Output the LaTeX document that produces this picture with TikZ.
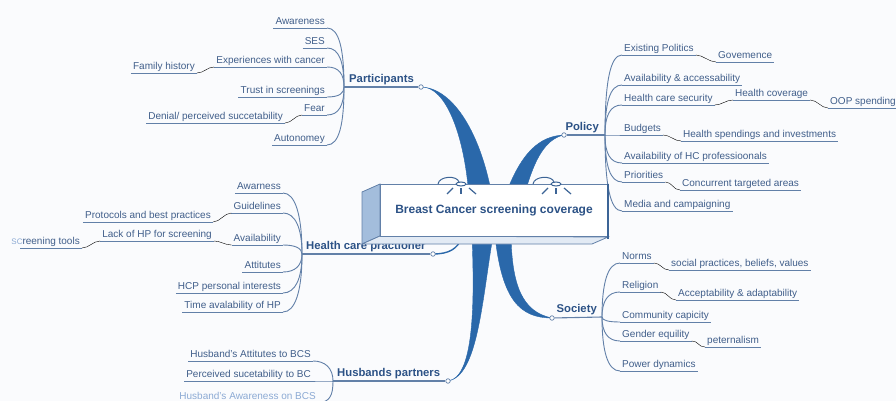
\documentclass[tikz,border=0pt]{standalone}
\usepackage{fontspec}
\setmainfont{Liberation Sans}
\usetikzlibrary{calc}
\definecolor{bgc}{RGB}{250,251,253}
\definecolor{txtc}{RGB}{64,94,138}
\definecolor{hubc}{RGB}{44,82,134}
\definecolor{linec}{RGB}{98,128,168}
\definecolor{branchc}{RGB}{42,104,170}
\definecolor{fadec}{RGB}{140,170,212}
\definecolor{sidec}{RGB}{163,189,220}
\definecolor{basec}{RGB}{226,234,244}
\definecolor{edgec}{RGB}{60,100,150}
\begin{document}
\begin{tikzpicture}[x=1pt,y=-1pt,
  uline/.style={draw=linec,line width=0.9pt},
  leaf/.style={font=\fontsize{10}{12}\selectfont,text=txtc,inner xsep=2pt,inner ysep=1pt,text depth=2pt,
    append after command={(\tikzlastnode.south west) edge[uline] (\tikzlastnode.south east)}},
  lleaf/.style={leaf,anchor=south east},
  rleaf/.style={leaf,anchor=south west},
  link/.style={draw=linec,line width=0.9pt},
  fanleft/.style={link,to path={.. controls ($(\tikztostart)!0.65!(\tikztostart|-\tikztotarget)$) and ($(\tikztotarget)+(12,0)$) .. (\tikztotarget)}},
  fanright/.style={link,to path={.. controls ($(\tikztostart)!0.65!(\tikztostart|-\tikztotarget)$) and ($(\tikztotarget)+(-12,0)$) .. (\tikztotarget)}},
  chain/.style={link,to path={.. controls +(7,0) and +(-7,0) .. (\tikztotarget)}},
  hublabel/.style={font=\fontsize{11.3}{13}\selectfont\bfseries,text=hubc,inner xsep=1pt,inner ysep=2pt,text depth=2.5pt},
  hubline/.style={draw=linec,line width=1.1pt},
  dot/.style={circle,draw=linec,fill=white,line width=0.7pt,inner sep=0pt,minimum size=4.5pt},
  branch/.style={fill=branchc,draw=branchc,line width=0.4pt,line join=round},
  lamp/.style={draw=edgec,line width=1pt},
  corebox/.style={draw=linec,fill=white,line width=0.9pt,minimum width=228pt,minimum height=52pt,
    font=\fontsize{12}{14}\selectfont\bfseries,text=hubc},
]
% canvas
\fill[bgc] (0,0) rectangle (896,401);
\clip (0,0) rectangle (896,401);

% hubs and branch ends
\coordinate (phub) at (344,87);
\coordinate (pohub) at (605,135);
\coordinate (hhub) at (302,254);
\coordinate (shub) at (602,317);
\coordinate (bhub) at (333,381);
\coordinate (pdotc) at (421,87);
\coordinate (podotc) at (564,135);
\coordinate (hdotc) at (433,254);
\coordinate (sdotc) at (552,318);
\coordinate (bdotc) at (448,381);

% ---- Participants
\node[lleaf] (p1) at (327,28) {Awareness};
\node[lleaf] (p2) at (327,48) {SES};
\node[lleaf] (p3) at (327,67) {Experiences with cancer};
\node[lleaf] (p3a) at (197,73) {Family history};
\node[lleaf] (p4) at (327,97) {Trust in screenings};
\node[lleaf] (p5) at (327,115) {Fear};
\node[lleaf] (p5a) at (285,123) {Denial/ perceived succetability};
\node[lleaf] (p6) at (327,145) {Autonomey};
\foreach \n in {p1,p2,p3,p4,p5,p6} \draw[fanleft] (phub) to (\n.south east);
\draw (p3a.south east) to[chain] (p3.south west);
\draw (p5a.south east) to[chain] (p5.south west);
\node[hublabel,anchor=south west] (plab) at (348,87) {Participants};

% ---- Health care practioner
\node[lleaf] (h1) at (283,193) {Awarness};
\node[lleaf] (h2) at (283,213) {Guidelines};
\node[lleaf] (h2a) at (213,222) {Protocols and best practices};
\node[lleaf] (h3) at (283,245) {Availability};
\node[lleaf] (h3a) at (214,241) {Lack of HP for screening};
\node[lleaf] (h3b) at (82,248) {\llap{\color{fadec}\fontsize{8}{10}\selectfont SC}reening tools};
\node[lleaf] (h4) at (283,272) {Attitutes};
\node[lleaf] (h5) at (283,293) {HCP personal interests};
\node[lleaf] (h6) at (283,312) {Time avalability of HP};
\foreach \n in {h1,h2,h3,h4,h5,h6} \draw[fanleft] (hhub) to (\n.south east);
\draw (h2a.south east) to[chain] (h2.south west);
\draw (h3a.south east) to[chain] (h3.south west);
\draw (h3b.south east) to[chain] (h3a.south west);
\node[hublabel,anchor=south west] (hlab) at (305,254) {Health care practioner};

% ---- Husbands partners
\node[lleaf] (b1) at (313,361) {Husband's Attitutes to BCS};
\node[lleaf] (b2) at (313,381) {Perceived sucetability to BC};
\node[lleaf,text=fadec] (b3) at (318,402.5) {Husband's Awareness on BCS};
\foreach \n in {b1,b2,b3} \draw[fanleft] (bhub) to (\n.south east);
\node[hublabel,anchor=south west] (blab) at (336,381) {Husbands partners};

% ---- Policy
\node[rleaf] (q1) at (622,55) {Existing Politics};
\node[rleaf] (q1a) at (716,62) {Govemence};
\node[rleaf] (q2) at (622,85) {Availability \& accessability};
\node[rleaf] (q3) at (622,105) {Health care security};
\node[rleaf] (q3a) at (733,100) {Health coverage};
\node[rleaf] (q3b) at (828,108) {OOP spending};
\node[rleaf] (q4) at (622,135) {Budgets};
\node[rleaf] (q4a) at (681,141) {Health spendings and investments};
\node[rleaf] (q5) at (622,163) {Availability of HC professioonals};
\node[rleaf] (q6) at (622,182) {Priorities};
\node[rleaf] (q6a) at (680,190) {Concurrent targeted areas};
\node[rleaf] (q7) at (622,211) {Media and campaigning};
\foreach \n in {q1,q2,q3,q4,q5,q6,q7} \draw[fanright] (pohub) to (\n.south west);
\draw (q1.south east) to[chain] (q1a.south west);
\draw (q3.south east) to[chain] (q3a.south west);
\draw (q3a.south east) to[chain] (q3b.south west);
\draw (q4.south east) to[chain] (q4a.south west);
\draw (q6.south east) to[chain] (q6a.south west);
\node[hublabel,anchor=south east] (polab) at (600,135) {Policy};

% ---- Society
\node[rleaf] (s1) at (620,263) {Norms};
\node[rleaf] (s1a) at (669,270) {social practices, beliefs, values};
\node[rleaf] (s2) at (620,292) {Religion};
\node[rleaf] (s2a) at (676,300) {Acceptability \& adaptability};
\node[rleaf] (s3) at (620,322) {Community capicity};
\node[rleaf] (s4) at (620,341) {Gender equility};
\node[rleaf] (s4a) at (705,347) {peternalism};
\node[rleaf] (s5) at (620,371) {Power dynamics};
\foreach \n in {s1,s2,s3,s4,s5} \draw[fanright] (shub) to (\n.south west);
\draw (s1.south east) to[chain] (s1a.south west);
\draw (s2.south east) to[chain] (s2a.south west);
\draw (s4.south east) to[chain] (s4a.south west);
\node[hublabel,anchor=south east] (slab) at (598,317) {Society};

% ---- tapered main branches
\path[branch] (pdotc) .. controls (446,86) and (463,135) .. (468,186)
  -- (490,186) .. controls (478,130) and (452,88) .. (pdotc) -- cycle;
\path[branch] (podotc) .. controls (538,136) and (522,155) .. (509,186)
  -- (527,186) .. controls (535,160) and (545,139) .. (podotc) -- cycle;
\path[branch] (472,236) .. controls (475,310) and (473,378) .. (bdotc)
  .. controls (478,376) and (482,300) .. (493,236) -- cycle;
\path[branch] (495,236) .. controls (502,300) and (520,318) .. (sdotc)
  .. controls (522,312) and (512,285) .. (511,236) -- cycle;
\draw[draw=branchc,line width=1.4pt] (hdotc) .. controls (449,254) and (457,249) .. (462,238);

% ---- central box
\filldraw[fill=sidec,draw=linec,line width=0.8pt] (380,184) -- (362,192) -- (362,244) -- (380,236) -- cycle;
\filldraw[fill=basec,draw=linec,line width=0.8pt] (380,236) -- (362,244) -- (592,244) -- (608,237) -- cycle;
\node[corebox] (core) at (494,210) {Breast Cancer screening coverage};
\draw[edgec,line width=2pt] (core.north east) -- ($(core.south east)+(0,3)$);

% lamps on the top edge
\foreach \lx in {461,556}{
  \draw[lamp] (\lx-23,184) .. controls (\lx-22,176) and (\lx-4,175) .. (\lx-2,182);
  \filldraw[lamp,fill=white] (\lx,184) ellipse[x radius=5,y radius=2];
  \draw[lamp,line width=1.2pt] (\lx-8,188) -- (\lx-14,194);
  \draw[lamp,line width=1.2pt] (\lx,188) -- (\lx,194);
  \draw[lamp,line width=1.2pt] (\lx+8,188) -- (\lx+15,194);
}

% ---- hub lines and end dots
\node[dot] (pdot) at (pdotc) {};
\node[dot] (podot) at (podotc) {};
\node[dot] (hdot) at (hdotc) {};
\node[dot] (sdot) at (sdotc) {};
\node[dot] (bdot) at (bdotc) {};
\draw[hubline] (phub) -- (pdot);
\draw[hubline] (pohub) -- (podot);
\draw[hubline] (hhub) -- (hdot);
\draw[hubline] (shub) -- (sdot);
\draw[hubline] (bhub) -- (bdot);
\end{tikzpicture}
\end{document}
